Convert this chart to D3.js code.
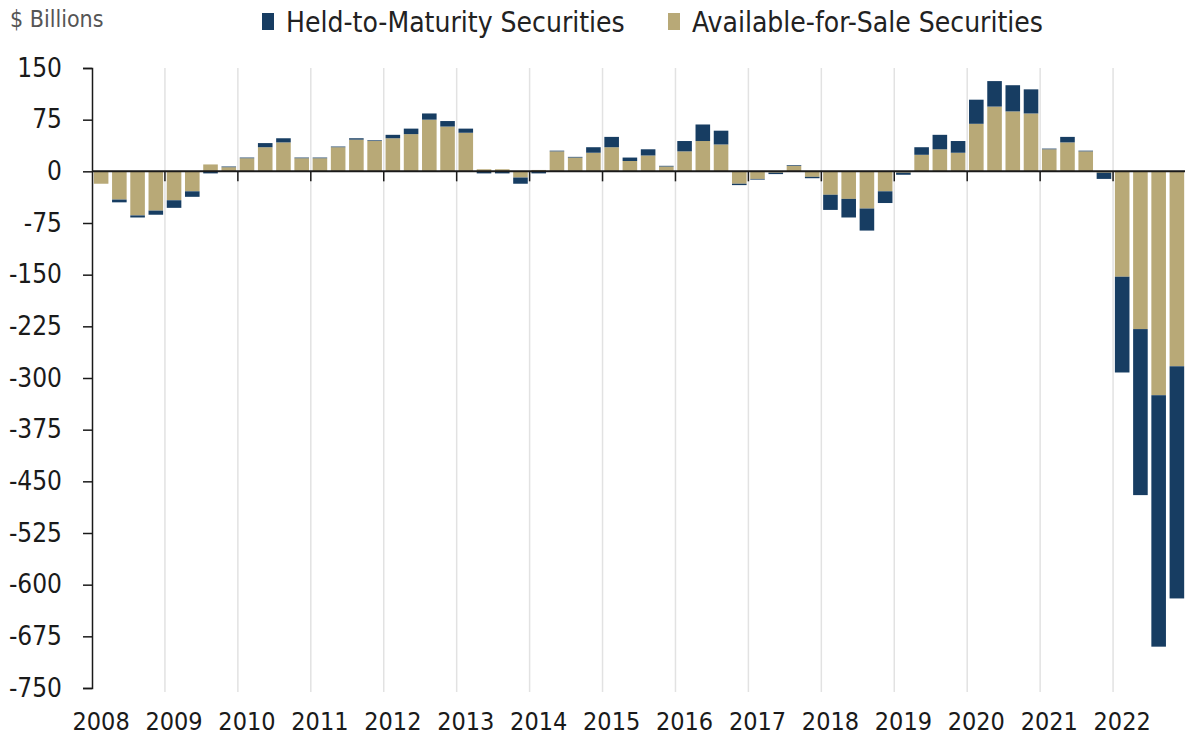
<!DOCTYPE html>
<html>
<head>
    <meta charset="utf-8">
    <style>
        body { margin: 0; background: #fff; }
        text { font-family: "DejaVu Sans Condensed", "Liberation Sans", sans-serif; font-stretch: condensed; }
    </style>
</head>
<body>
    <script src="https://cdn.jsdelivr.net/npm/d3@7"></script>
    <script>
        var years = [2008, 2009, 2010, 2011, 2012, 2013, 2014, 2015, 2016, 2017, 2018, 2019, 2020, 2021, 2022];
        var quarters = years.flatMap(function (y) {
            return ["Q1", "Q2", "Q3", "Q4"].map(function (q) { return y + " " + q; });
        });

        // available-for-sale, $ billions, quarterly
        var afs = [
            -18, -41, -64, -57,
            -42, -29, 10, 6,
            19, 35, 42, 19,
            19, 35, 46, 44,
            48, 54, 75, 65,
            56, 3, 3, -9,
            2, 29, 20, 27,
            35, 15, 23, 7,
            29, 44, 39, -18,
            -11, -2, 8, -8,
            -34, -40, -54, -29,
            -2, 24, 32, 27,
            69, 94, 87, 84,
            32, 42, 29, -2,
            -153, -229, -325, -283
        ];
        // held-to-maturity
        var htm = [
            0, -4, -3, -6,
            -11, -8, -3, 1,
            1, 6, 6, 1,
            1, 1, 2, 1,
            5, 8, 9, 8,
            6, -3, -3, -9,
            -3, 1, 1, 8,
            15, 5, 9, 1,
            15, 24, 20, -2,
            -1, -2, 1, -2,
            -22, -27, -32, -17,
            -3, 11, 21, 17,
            35, 37, 38, 35,
            1, 8, 1, -9,
            -139, -241, -365, -337
        ];
        var yTicks = [150, 75, 0, -75, -150, -225, -300, -375, -450, -525, -600, -675, -750];

        var width = 1185, height = 739;
        var plot = { left: 92, right: 1186, top: 68, bottom: 688 };
        var colors = { htm: '#173d62', afs: '#b8a977' };

        var rows = quarters.map(function (q, i) {
            return { q: q, afs: afs[i], htm: htm[i] };
        });

        var series = d3.stack()
            .keys(['afs', 'htm'])
            .offset(d3.stackOffsetDiverging)(rows);

        var x = d3.scaleBand()
            .domain(quarters)
            .range([plot.left, plot.right])
            .paddingInner(0.2)
            .paddingOuter(0.1);

        var y = d3.scaleLinear()
            .domain([-750, 150])
            .range([plot.bottom, plot.top]);

        var yearScale = d3.scaleLinear()
            .domain([2008, 2023])
            .range([plot.left, plot.right]);

        var svg = d3.select('body')
            .append('svg')
            .attr('width', width)
            .attr('height', height);

        // vertical year gridlines
        svg.append('g')
            .selectAll('line')
            .data(years.slice(1))
            .enter()
            .append('line')
            .attr('x1', function (d) { return yearScale(d); })
            .attr('x2', function (d) { return yearScale(d); })
            .attr('y1', plot.top)
            .attr('y2', plot.bottom + 4)
            .attr('stroke', '#e2e2e2')
            .attr('stroke-width', 1.5);

        // bars
        svg.append('g')
            .selectAll('g')
            .data(series)
            .enter()
            .append('g')
            .attr('fill', function (s) { return colors[s.key]; })
            .selectAll('rect')
            .data(function (s) { return s; })
            .enter()
            .append('rect')
            .attr('x', function (d) { return x(d.data.q); })
            .attr('width', x.bandwidth())
            .attr('y', function (d) { return y(Math.max(d[0], d[1])); })
            .attr('height', function (d) { return Math.abs(y(d[0]) - y(d[1])); });

        // zero line with year ticks
        svg.append('line')
            .attr('x1', plot.left).attr('x2', width)
            .attr('y1', y(0)).attr('y2', y(0))
            .attr('stroke', '#1a1a1a')
            .attr('stroke-width', 2);

        svg.append('g')
            .selectAll('line')
            .data(years.slice(1))
            .enter()
            .append('line')
            .attr('x1', function (d) { return yearScale(d); })
            .attr('x2', function (d) { return yearScale(d); })
            .attr('y1', y(0))
            .attr('y2', y(0) + 10)
            .attr('stroke', '#1a1a1a')
            .attr('stroke-width', 1.5);

        // y axis
        var yAxis = d3.axisLeft(y)
            .tickValues(yTicks)
            .tickSize(9)
            .tickPadding(21)
            .tickFormat(function (d) { return String(d); });

        var yAxisNodes = svg.append('g')
            .attr('transform', 'translate(' + plot.left + ',0)')
            .call(yAxis);
        yAxisNodes.selectAll('.domain')
            .attr('stroke', '#1a1a1a')
            .attr('stroke-width', 1.5);
        yAxisNodes.selectAll('.tick line')
            .attr('stroke', '#1a1a1a')
            .attr('stroke-width', 1.5);
        yAxisNodes.selectAll('.tick text')
            .attr('fill', '#1a1a1a')
            .attr('font-size', 26)
            .style('font-family', '"DejaVu Sans Condensed", sans-serif');

        // year labels under first quarter
        svg.append('g')
            .selectAll('text')
            .data(years)
            .enter()
            .append('text')
            .attr('x', function (d) { return x(d + ' Q1') + x.bandwidth() / 2; })
            .attr('y', 730)
            .attr('text-anchor', 'middle')
            .attr('font-size', 25)
            .attr('fill', '#1a1a1a')
            .text(function (d) { return d; });

        // unit label
        svg.append('text')
            .attr('x', 10)
            .attr('y', 27)
            .attr('font-size', 23)
            .attr('fill', '#555')
            .text('$ Billions');

        // legend
        var legendItems = [
            { key: 'htm', label: 'Held-to-Maturity Securities', x: 262 },
            { key: 'afs', label: 'Available-for-Sale Securities', x: 668 }
        ];
        var legend = svg.append('g')
            .selectAll('g')
            .data(legendItems)
            .enter()
            .append('g')
            .attr('transform', function (d) { return 'translate(' + d.x + ',0)'; });
        legend.append('rect')
            .attr('x', 0).attr('y', 13)
            .attr('width', 12).attr('height', 17)
            .attr('fill', function (d) { return colors[d.key]; });
        legend.append('text')
            .attr('x', 24)
            .attr('y', 32)
            .attr('font-size', 28)
            .attr('fill', '#222')
            .text(function (d) { return d.label; });
    </script>
</body>
</html>
